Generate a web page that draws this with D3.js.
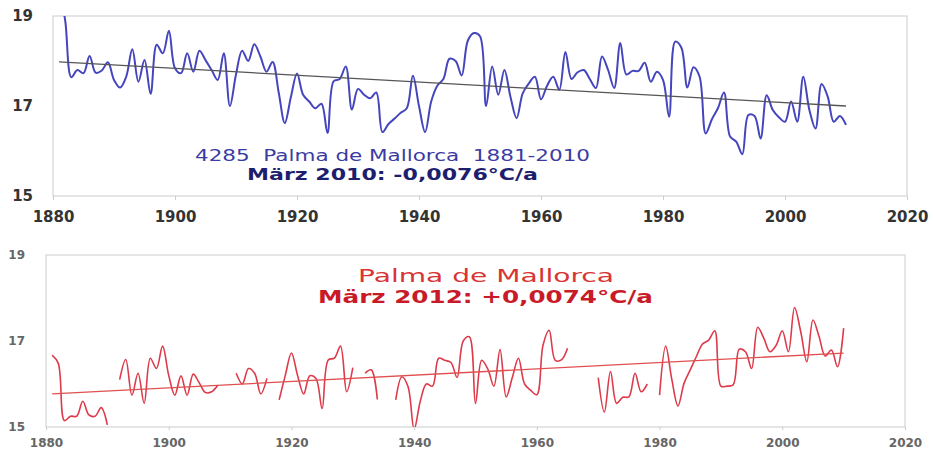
<!DOCTYPE html>
<html>
<head>
<meta charset="utf-8">
<script src="https://cdn.jsdelivr.net/npm/d3@7"></script>
<style>
  body { margin: 0; background: #fff; }
  text { font-family: "DejaVu Sans", Verdana, sans-serif; }
</style>
</head>
<body>
<script>
// years and ticks
var startYear = 1881;
var trendYears = [1881, 2010];
var xTicks = [1880, 1900, 1920, 1940, 1960, 1980, 2000, 2020];
var yTicks = [15, 17, 19];

// March mean temperature, Palma de Mallorca (chart 1, 1881-2010)
var tempTop = [
  19.6, 18.9, 17.64, 17.8, 17.73, 18.11, 17.74, 17.79, 17.97, 17.58,
  17.41, 17.65, 18.26, 17.54, 18.02, 17.27, 18.36, 18.17, 18.67, 17.84,
  17.73, 18.17, 17.76, 18.23, 18.02, 17.8, 17.58, 18.17, 17.0, 17.7,
  18.23, 18.0, 18.37, 18.1, 17.76, 17.98, 17.3, 16.62, 17.2, 17.72,
  17.25, 17.1, 16.95, 17.05, 16.4, 17.55, 17.6, 17.88, 16.92, 17.38,
  17.25, 17.17, 17.3, 16.42, 16.6, 16.72, 16.85, 16.95, 17.67, 17.0,
  16.42, 17.1, 17.45, 17.6, 18.05, 18.0, 17.68, 18.45, 18.62, 18.55,
  17.0, 17.88, 17.25, 17.8, 17.2, 16.73, 17.28, 17.5, 17.65, 17.15,
  17.45, 17.65, 17.36, 18.2, 17.6, 17.75, 17.8, 17.6, 17.4, 18.1,
  17.8, 17.4, 18.4, 17.7, 17.78, 17.78, 17.96, 17.54, 17.76, 17.58,
  16.76, 18.43, 18.3, 17.41, 17.86, 17.65, 16.39, 16.7, 16.95, 17.3,
  16.32, 16.21, 15.93, 16.8, 16.78, 16.28, 17.24, 16.91, 16.75, 16.65,
  17.1, 16.65, 17.65, 16.91, 16.5, 17.49, 17.21, 16.65, 16.78, 16.58
];
var trendTop = [17.98, 17.0];

// chart 2, same station, with gaps
var tempBottom = [
  16.67, 16.48, 15.15, 15.25, 15.25, 15.6, 15.28, 15.25, 15.45, 15.05,
  null, 16.1, 16.57, 15.74, 16.25, 15.55, 16.6, 16.36, 16.88, 16.2,
  15.74, 16.19, 15.74, 16.23, 16.02, 15.8, 15.82, 15.97, null, null,
  16.25, 16.0, 16.36, 16.25, 15.77, 16.13, null, 15.63, 16.2, 16.72,
  16.2, 15.77, 16.19, 16.13, 15.43, 16.56, 16.6, 16.88, 15.82, 16.38,
  null, 16.25, 16.33, 15.64, null, null, 15.63, 16.17, 15.94, 14.95,
  15.6, 16.0, 15.95, 16.6, 16.55, 16.5, 16.15, 17.0, 17.1, 15.55,
  16.55, 16.35, 15.95, 16.8, 15.7, 16.15, 16.6, 16.0, 15.85, 15.75,
  16.9, 17.25, 16.55, 16.56, 16.83, null, null, null, null, 16.15,
  15.35, 16.29, 15.55, 15.69, 15.7, 16.25, 15.82, 16.0, null, 15.74,
  16.88, 16.1, 15.49, 16.02, 16.33, 16.64, 16.93, 17.02, 17.24, 15.95,
  15.95, 15.98, 16.81, 16.75, 16.36, 17.32, 17.06, 16.75, 16.9, 17.24,
  16.75, 17.78, 17.22, 16.52, 17.49, 17.1, 16.65, 16.79, 16.4, 17.3
];
var trendBottom = [15.77, 16.72];

var width = 933, height = 450;

var svg = d3.select("body").append("svg")
    .attr("width", width)
    .attr("height", height);

svg.append("rect").attr("width", width).attr("height", height).attr("fill", "#fff");

function drawPanel(opt) {
  var x = d3.scaleLinear().domain([1880, 2020]).range([opt.left, opt.right]);
  var y = d3.scaleLinear().domain([15, 19]).range([opt.bottom, opt.top]);

  var g = svg.append("g");

  g.append("clipPath").attr("id", opt.id)
    .append("rect")
    .attr("x", opt.left).attr("y", opt.top)
    .attr("width", opt.right - opt.left)
    .attr("height", opt.bottom - opt.top);

  // frame
  g.append("rect")
    .attr("x", opt.left).attr("y", opt.top)
    .attr("width", opt.right - opt.left)
    .attr("height", opt.bottom - opt.top)
    .attr("fill", "none")
    .attr("stroke", "#d4d4d4")
    .attr("stroke-width", 1.2);

  var xAxis = g.append("g")
    .attr("transform", "translate(0," + opt.bottom + ")")
    .call(d3.axisBottom(x).tickValues(xTicks).tickFormat(d3.format("d"))
      .tickSize(opt.tickSize).tickPadding(opt.xPad));
  xAxis.select(".domain").remove();
  xAxis.selectAll("line").attr("stroke", "#ccc");
  xAxis.selectAll("text")
    .attr("fill", opt.labelColor)
    .style("font-size", opt.labelSize + "px")
    .style("font-weight", "bold");

  var yAxis = g.append("g")
    .attr("transform", "translate(" + opt.left + ",0)")
    .call(d3.axisLeft(y).tickValues(yTicks).tickFormat(d3.format("d"))
      .tickSize(0).tickPadding(opt.yPad));
  yAxis.select(".domain").remove();
  yAxis.selectAll("text")
    .attr("fill", opt.labelColor)
    .style("font-size", opt.labelSize + "px")
    .style("font-weight", "bold");

  var pts = opt.values.map(function(v, i) { return {year: startYear + i, v: v}; });

  var line = d3.line()
    .defined(function(d) { return d.v != null; })
    .x(function(d) { return x(d.year); })
    .y(function(d) { return y(d.v); })
    .curve(d3.curveCatmullRom.alpha(0.5));

  g.append("path")
    .datum(pts)
    .attr("clip-path", "url(#" + opt.id + ")")
    .attr("d", line)
    .attr("fill", "none")
    .attr("stroke", opt.color)
    .attr("stroke-width", opt.lineWidth)
    .attr("stroke-linejoin", "round");

  // linear trend
  g.append("line")
    .attr("x1", x(trendYears[0])).attr("y1", y(opt.trend[0]))
    .attr("x2", x(trendYears[1])).attr("y2", y(opt.trend[1]))
    .attr("stroke", opt.trendColor)
    .attr("stroke-width", 1.3);

  opt.labels.forEach(function(l) {
    g.append("text")
      .attr("x", l.x).attr("y", l.y)
      .attr("textLength", l.w)
      .attr("lengthAdjust", "spacingAndGlyphs")
      .style("white-space", "pre")
      .style("font-size", l.size + "px")
      .style("font-weight", l.bold ? "bold" : "normal")
      .attr("fill", l.color)
      .text(l.text);
  });
}

drawPanel({
  id: "clipTop", left: 53, right: 907, top: 16, bottom: 196,
  values: tempTop, trend: trendTop,
  color: "#4545bd", lineWidth: 2, trendColor: "#555",
  labelColor: "#333", labelSize: 15, tickSize: 4, xPad: 11, yPad: 20,
  labels: [
    {text: "4285  Palma de Mallorca  1881-2010", x: 195, y: 161, w: 395, size: 16, color: "#3b3ba3"},
    {text: "März 2010: -0,0076°C/a", x: 247, y: 180, w: 291, size: 16, bold: true, color: "#1e1e6e"}
  ]
});

drawPanel({
  id: "clipBottom", left: 46, right: 905, top: 255, bottom: 427,
  values: tempBottom, trend: trendBottom,
  color: "#dd3a4a", lineWidth: 1.6, trendColor: "#e05050",
  labelColor: "#666", labelSize: 12, tickSize: 3, xPad: 8, yPad: 21,
  labels: [
    {text: "Palma de Mallorca", x: 358, y: 282, w: 256, size: 18, color: "#d93434"},
    {text: "März 2012: +0,0074°C/a", x: 318, y: 303, w: 335, size: 18, bold: true, color: "#c81a28"}
  ]
});
</script>
</body>
</html>
